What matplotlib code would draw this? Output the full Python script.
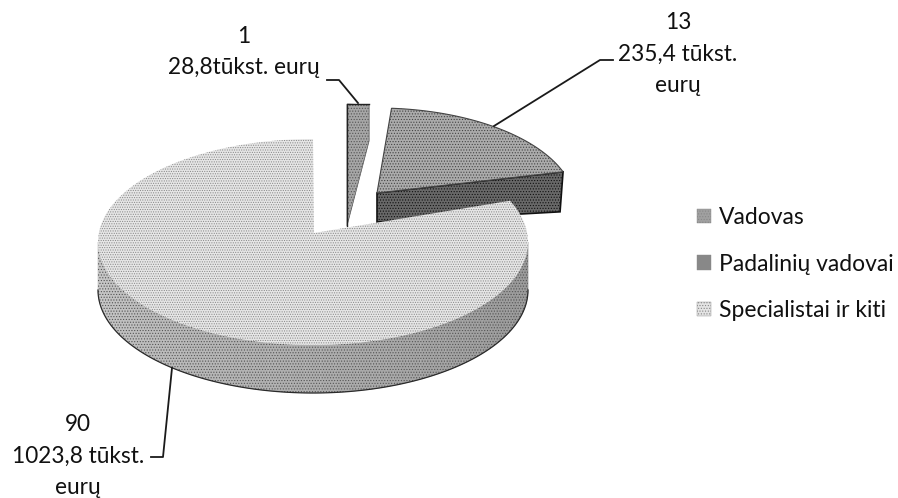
#!/usr/bin/env python3

import numpy as np
import matplotlib
matplotlib.use('Agg')
import matplotlib.pyplot as plt
from matplotlib.patches import Patch, Polygon

# chart data
categories = ["Vadovas", "Padalinių vadovai", "Specialistai ir kiti"]
counts = [1, 13, 90]
amounts = [28.8, 235.4, 1023.8]
label_lines = ["{}\n{}tūkst. eurų", "{}\n{} tūkst.\neurų", "{}\n{} tūkst.\neurų"]

plt.rcParams['font.family'] = ['Lato', 'DejaVu Sans']
plt.rcParams['hatch.linewidth'] = 0.5

sweeps = 360 * np.array(amounts) / sum(amounts)


def arc(cx, cy, rx, ry, a0, a1):
    """Points on the projected ellipse between two angles (degrees)."""
    t = np.radians(np.linspace(a0, a1, 120))
    return np.column_stack([cx + rx * np.cos(t), cy - ry * np.sin(t)])


def wall_color(frac, light, dark):
    g = light + (dark - light) * frac
    return (g, g, g)


fig, ax = plt.subplots(figsize=(8.98, 4.98), dpi=100)
ax.set_position([0, 0, 1, 1])
ax.set_xlim(0, 898)
ax.set_ylim(498, 0)
ax.axis('off')

# smallest slice, pulled out to the top
top = arc(347, 200, 158, 96, 90 - sweeps[0], 90)
ax.add_patch(Polygon(np.vstack([[347, 226], [347, 190], top[-1], top[0], top[0] + [0, 36]]),
                     fc='#a6a6a6', ec='#555555', lw=0.5, hatch='......', zorder=2))
ax.plot([347, 347, 369], [226, 104, 104], color='#222222', lw=1, zorder=3)

# middle slice, its wall is hidden partly by the big slice
end_mid = 20
top = arc(377, 205, 198, 97, end_mid, end_mid + sweeps[1])
ax.add_patch(Polygon(np.array([[377, 193], [377, 222], top[0] + [-3, 40], top[0]]),
                     fc='#686868', ec='#111111', lw=1.2, hatch='......', zorder=2))
ax.add_patch(Polygon(np.vstack([[[377, 193]], top]), fc='#ababab', ec='#444444', lw=0.8,
                     hatch='......', zorder=3))

# big slice: wall strips first, then the top face
cx, cy, rx, ry, depth = 313, 242, 215, 103, 48
angles = np.linspace(180, 360, 91)
for i in range(len(angles) - 1):
    rim = arc(cx, cy, rx, ry, angles[i], angles[i + 1])
    shade = wall_color(i / (len(angles) - 2), 0.78, 0.58)
    ax.add_patch(Polygon(np.vstack([rim, (rim + [0, depth])[::-1]]), fc=shade, ec=shade,
                         lw=0.3, zorder=4))
rim = arc(cx, cy, rx, ry, 180, 360)
ax.add_patch(Polygon(np.vstack([rim, (rim + [0, depth])[::-1]]), fc='none', ec='#555555', lw=0,
                     hatch='......', zorder=4))
ax.plot(rim[:, 0], rim[:, 1] + depth, color='#2a2a2a', lw=0.9, zorder=5)
top = arc(cx, cy, rx, ry, 90, 90 + sweeps[2] * 1.026)
ax.add_patch(Polygon(np.vstack([[[314, 233]], top]), fc='#e6e6e6', ec='none', zorder=6))
ax.add_patch(Polygon(np.vstack([[[314, 233]], top]), fc='none', ec='#888888', lw=0,
                     hatch='.......', zorder=6))

# data labels with leader lines
label_pos = [(244, 52), (678, 54), (78, 456)]
leaders = [
    ([327, 339, 358], [80, 80, 103]),
    ([494, 600, 613], [126, 60, 60]),
    ([172, 163, 151], [368, 457, 457]),
]
for n, a, fmt, pos, (lx, ly) in zip(counts, amounts, label_lines, label_pos, leaders):
    ax.text(pos[0], pos[1], fmt.format(n, str(a).replace('.', ',')), ha='center', va='center',
            fontsize=16.3, color='#111111', linespacing=1.62)
    ax.plot(lx, ly, color='#1a1a1a', lw=1.3, zorder=7)

handles = [Patch(fc=c, ec='#888888', lw=0.3, hatch='......')
           for c in ['#a0a0a0', '#888888', '#e4e4e4']]
ax.legend(handles, categories, loc='upper left', bbox_to_anchor=(0.753, 0.626), frameon=False,
          fontsize=16.5, labelspacing=1.12, handlelength=0.6, handleheight=0.6, handletextpad=0.35,
          labelcolor='#111111')

fig.savefig('out.png', dpi=100)
